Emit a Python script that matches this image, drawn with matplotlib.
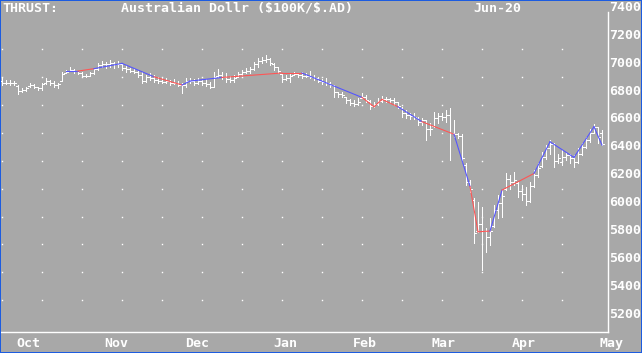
import matplotlib
matplotlib.use("Agg")
import matplotlib.pyplot as plt
from matplotlib.patches import Rectangle

# daily bars, Oct-2019 .. May-2020
highs = [6890, 6880, 6880, 6875, 6840, 6820, 6830, 6860, 6850, 6830,
         6860, 6890, 6880, 6870, 6860, 6935, 6950, 6975, 6955, 6945,
         6935, 6925, 6938, 6962, 6998, 7017, 7010, 7022, 7010, 7017,
         6993, 6986, 6962, 6962, 6950, 6938, 6914, 6926, 6914, 6902,
         6890, 6890, 6878, 6883, 6873, 6859, 6890, 6890, 6883, 6890,
         6878, 6883, 6866, 6938, 6955, 6938, 6926, 6907, 6914, 6938,
         6950, 6962, 6969, 7010, 7034, 7045, 7057, 7034, 6998, 6974,
         6926, 6914, 6926, 6938, 6931, 6938, 6926, 6945, 6914, 6902,
         6885, 6890, 6867, 6843, 6795, 6795, 6759, 6740, 6735, 6747,
         6783, 6771, 6735, 6723, 6747, 6764, 6759, 6747, 6747, 6723,
         6687, 6663, 6640, 6640, 6611, 6604, 6592, 6568, 6652, 6640,
         6640, 6663, 6675, 6590, 6500, 6490, 6281, 6162, 6030, 6006,
         5970, 5815, 5887, 5982, 6054, 6090, 6209, 6197, 6221, 6149,
         6125, 6113, 6149, 6233, 6281, 6364, 6412, 6448, 6424, 6352,
         6376, 6364, 6352, 6340, 6388, 6424, 6472, 6531, 6567, 6543,
         6520]
lows = [6840, 6850, 6845, 6840, 6780, 6790, 6800, 6830, 6820, 6810,
        6810, 6850, 6840, 6830, 6820, 6870, 6926, 6940, 6930, 6925,
        6900, 6898, 6907, 6925, 6950, 6974, 6962, 6974, 6962, 6970,
        6950, 6938, 6938, 6926, 6902, 6855, 6866, 6878, 6866, 6859,
        6854, 6854, 6842, 6850, 6835, 6787, 6830, 6854, 6842, 6850,
        6842, 6835, 6818, 6830, 6902, 6883, 6866, 6866, 6866, 6898,
        6914, 6926, 6931, 6950, 6974, 6998, 7010, 6986, 6950, 6926,
        6866, 6878, 6866, 6914, 6902, 6890, 6898, 6890, 6878, 6866,
        6850, 6843, 6831, 6760, 6760, 6754, 6711, 6699, 6692, 6699,
        6747, 6723, 6668, 6683, 6699, 6723, 6723, 6716, 6699, 6675,
        6616, 6604, 6597, 6597, 6556, 6556, 6448, 6484, 6544, 6568,
        6592, 6580, 6305, 6470, 6460, 6293, 6126, 6078, 5707, 5791,
        5516, 5648, 5695, 5827, 5887, 5900, 6089, 6101, 6125, 6042,
        6018, 5982, 6006, 6113, 6185, 6257, 6316, 6352, 6257, 6281,
        6269, 6304, 6281, 6257, 6281, 6340, 6388, 6436, 6496, 6424,
        6412]
opens = [6870, 6860, 6860, 6855, 6835, 6800, 6805, 6835, 6845, 6830,
         6820, 6855, 6870, 6860, 6845, 6875, 6930, 6945, 6950, 6940,
         6930, 6905, 6910, 6930, 6955, 6985, 6995, 6990, 7000, 6995,
         6990, 6965, 6955, 6945, 6935, 6915, 6870, 6900, 6895, 6880,
         6870, 6865, 6870, 6855, 6860, 6845, 6840, 6875, 6870, 6860,
         6870, 6855, 6850, 6830, 6910, 6915, 6900, 6885, 6880, 6900,
         6925, 6935, 6945, 6955, 6990, 7015, 7025, 7030, 6995, 6970,
         6920, 6885, 6890, 6915, 6925, 6915, 6905, 6910, 6900, 6890,
         6875, 6865, 6860, 6840, 6790, 6775, 6755, 6735, 6715, 6705,
         6750, 6760, 6730, 6690, 6705, 6730, 6745, 6740, 6735, 6720,
         6680, 6640, 6625, 6620, 6605, 6575, 6590, 6530, 6550, 6610,
         6620, 6615, 6630, 6500, 6490, 6480, 6270, 6150, 6020, 5800,
         5850, 5800, 5750, 5830, 5950, 6000, 6100, 6170, 6150, 6140,
         6080, 6060, 6010, 6120, 6200, 6260, 6330, 6390, 6420, 6300,
         6290, 6330, 6340, 6320, 6290, 6350, 6400, 6450, 6500, 6540,
         6500]
closes = [6860, 6860, 6855, 6860, 6800, 6805, 6820, 6845, 6830, 6820,
          6850, 6870, 6860, 6845, 6850, 6925, 6935, 6950, 6940, 6930,
          6905, 6910, 6930, 6955, 6985, 6995, 6990, 7000, 6995, 6990,
          6965, 6955, 6945, 6935, 6915, 6870, 6900, 6895, 6880, 6870,
          6865, 6870, 6855, 6860, 6845, 6840, 6875, 6870, 6860, 6870,
          6855, 6850, 6830, 6900, 6915, 6900, 6885, 6880, 6890, 6925,
          6935, 6945, 6955, 6990, 7015, 7025, 7030, 7000, 6970, 6940,
          6885, 6890, 6910, 6925, 6915, 6905, 6910, 6900, 6890, 6875,
          6865, 6860, 6845, 6790, 6775, 6770, 6735, 6715, 6705, 6720,
          6760, 6735, 6690, 6705, 6730, 6745, 6740, 6735, 6720, 6690,
          6640, 6625, 6620, 6615, 6575, 6590, 6530, 6530, 6610, 6620,
          6615, 6630, 6500, 6490, 6480, 6320, 6150, 6100, 5780, 5850,
          5800, 5750, 5800, 5950, 6000, 6050, 6170, 6150, 6160, 6080,
          6060, 6010, 6120, 6200, 6250, 6330, 6390, 6420, 6300, 6320,
          6330, 6340, 6320, 6290, 6350, 6400, 6450, 6500, 6540, 6470,
          6420]

# thrust line pivots (bar index, value) and colour of the segment that follows
thrust_idx = [16, 19, 23, 30, 38, 45, 47, 55, 70, 75, 90, 93, 95, 99, 105,
              113, 117, 119, 122, 125, 133, 137, 143, 148, 150]
thrust_val = [6943, 6943, 6960, 6998, 6902, 6843, 6871, 6897, 6929, 6929,
              6754, 6687, 6740, 6687, 6580, 6490, 6116, 5791, 5796, 6090,
              6209, 6436, 6324, 6544, 6412]
thrust_col = ['b', 'r', 'b', 'b', 'r', 'b', 'b', 'r', 'r', 'b', 'r', 'r',
              'r', 'b', 'r', 'b', 'r', 'r', 'b', 'r', 'b', 'b', 'b', 'b']

y_ticks = [7400, 7200, 7000, 6800, 6600, 6400, 6200, 6000, 5800, 5600, 5400, 5200]
dot_rows = [7100, 6900, 6700, 6500, 6300, 6100, 5900, 5700, 5500, 5300]
months = ['Oct', 'Nov', 'Dec', 'Jan', 'Feb', 'Mar', 'Apr', 'May']
month_pos = [6.5, 28.5, 48.75, 70.75, 90.75, 110.5, 130.5, 152.5]

BG = '#a8a8a8'
RED = '#ff5555'
BLUE = '#5555ff'
W, H = 642, 353
px = 0.72  # one pixel in points at dpi 100

fig = plt.figure(figsize=(W / 100, H / 100), dpi=100, facecolor=BG)
ax = fig.add_axes([0, (H - 332) / H, 608 / W, 332 / H])
ax.set_facecolor(BG)
for s in ax.spines.values():
    s.set_visible(False)
ax.set_xticks([])
ax.set_yticks([])

y_top = 7452.3
y_bot = 7452.3 - 332 * 7.168
ax.set_xlim(-0.5, 151.5)
ax.set_ylim(y_bot, y_top)

mono = dict(family='DejaVu Sans Mono', weight='bold', color='white',
            fontsize=9.5, parse_math=False)

# grid dots
for v in dot_rows:
    ax.plot(range(0, 141, 10), [v] * 15, ls='none', marker='s', ms=1.0,
            mec='white', mfc='white', mew=0)

# bars
n = len(highs)
idx = list(range(n))
ax.vlines(idx, lows, highs, colors='white', lw=px, antialiased=False)
ax.hlines(opens, [i - 0.5 for i in idx], idx, colors='white', lw=px, antialiased=False)
ax.hlines(closes, idx, [i + 0.5 for i in idx], colors='white', lw=px, antialiased=False)

# thrust line
for k, c in enumerate(thrust_col):
    ax.plot(thrust_idx[k:k + 2], thrust_val[k:k + 2],
            color=RED if c == 'r' else BLUE, lw=1.1 * px)

# frame lines (bottom + right scale line)
ax.plot([-0.5, 151.5], [y_bot, y_bot], color='white', lw=1.4 * px, clip_on=False)
ax.plot([151.5, 151.5], [y_top - 12 * 7.168, y_bot], color='white', lw=1.4 * px, clip_on=False)

for v in y_ticks:
    ax.text(151.8, v, str(v), ha='left', va='center', clip_on=False, **mono)

for m, p in zip(months, month_pos):
    ax.text(p, y_top - 343 * 7.168, m, ha='center', va='center', clip_on=False, **mono)

fig.text(2 / W, 1 - 8 / H, 'THRUST:', ha='left', va='center', **mono)
fig.text(121 / W, 1 - 8 / H, 'Australian Dollr ($100K/$.AD)', ha='left', va='center', **mono)
fig.text(473 / W, 1 - 8 / H, 'Jun-20', ha='left', va='center', **mono)

fig.patches.append(Rectangle((0, 0), 1, 1, transform=fig.transFigure, fill=False,
                             edgecolor='#1c5ce0', lw=2.0 * px))

fig.savefig('out.png', dpi=100, facecolor=BG)
